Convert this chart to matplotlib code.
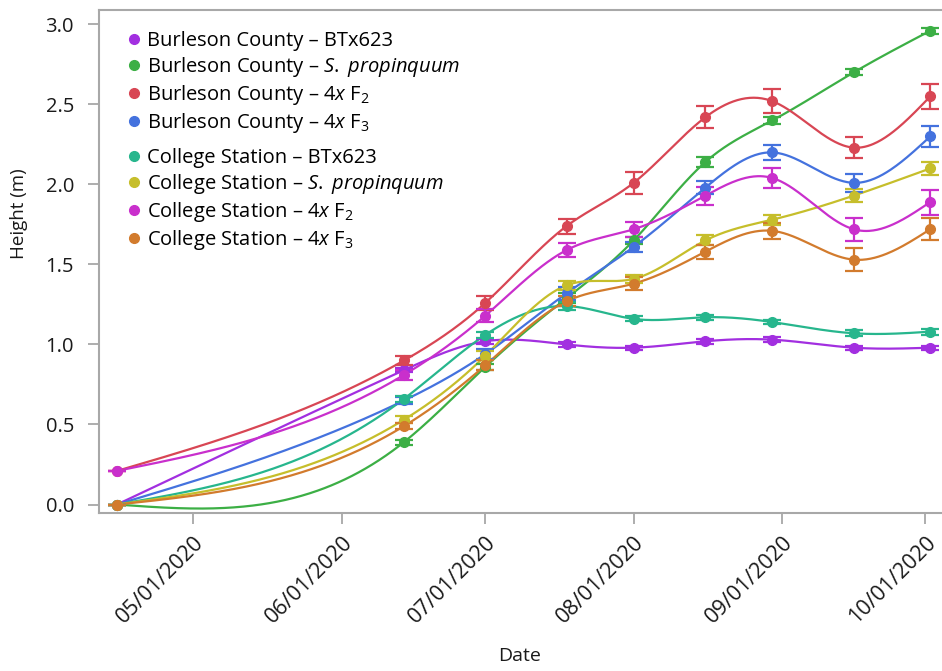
import numpy as np
import matplotlib
matplotlib.use("Agg")
import matplotlib.pyplot as plt
import matplotlib.dates as mdates
from matplotlib.lines import Line2D

plt.rcParams['font.family'] = ['Open Sans', 'DejaVu Sans']
plt.rcParams['mathtext.fontset'] = 'custom'
plt.rcParams['mathtext.rm'] = 'Open Sans'
plt.rcParams['mathtext.it'] = 'Open Sans:italic'

# sampling dates
dates = ['2020-04-15', '2020-06-14', '2020-07-01', '2020-07-18', '2020-08-01',
         '2020-08-16', '2020-08-30', '2020-09-16', '2020-10-02']

# mean plant height (m)
bc_btx = [0.00, 0.84, 1.02, 1.00, 0.98, 1.02, 1.03, 0.98, 0.98]
bc_prop = [0.00, 0.39, 0.86, 1.29, 1.65, 2.14, 2.40, 2.70, 2.96]
bc_f2 = [0.21, 0.90, 1.26, 1.74, 2.01, 2.42, 2.52, 2.23, 2.55]
bc_f3 = [0.00, 0.65, 0.94, 1.32, 1.61, 1.98, 2.20, 2.01, 2.30]
cs_btx = [0.00, 0.66, 1.06, 1.24, 1.16, 1.17, 1.14, 1.07, 1.08]
cs_prop = [0.00, 0.53, 0.93, 1.37, 1.41, 1.65, 1.78, 1.93, 2.10]
cs_f2 = [0.21, 0.81, 1.18, 1.59, 1.72, 1.93, 2.04, 1.72, 1.89]
cs_f3 = [0.00, 0.49, 0.87, 1.27, 1.38, 1.58, 1.71, 1.53, 1.72]

# standard errors
bc_btx_err = [0, 0.015, 0.015, 0.015, 0.012, 0.015, 0.015, 0.012, 0.012]
bc_prop_err = [0, 0.015, 0.02, 0.03, 0.02, 0.034, 0.02, 0.019, 0.018]
bc_f2_err = [0, 0.03, 0.045, 0.047, 0.067, 0.069, 0.075, 0.066, 0.076]
bc_f3_err = [0, 0.02, 0.03, 0.04, 0.031, 0.042, 0.046, 0.057, 0.065]
cs_btx_err = [0, 0.02, 0.02, 0.025, 0.015, 0.015, 0.015, 0.02, 0.018]
cs_prop_err = [0, 0.02, 0.03, 0.027, 0.023, 0.031, 0.031, 0.042, 0.04]
cs_f2_err = [0, 0.03, 0.04, 0.043, 0.047, 0.057, 0.063, 0.072, 0.078]
cs_f3_err = [0, 0.02, 0.03, 0.03, 0.042, 0.044, 0.052, 0.07, 0.07]

labels = [
    'Burleson County – BTx623',
    r'Burleson County – $\it{S.}$ $\it{propinquum}$',
    r'Burleson County – 4$\it{x}$ F$_2$',
    r'Burleson County – 4$\it{x}$ F$_3$',
    'College Station – BTx623',
    r'College Station – $\it{S.}$ $\it{propinquum}$',
    r'College Station – 4$\it{x}$ F$_2$',
    r'College Station – 4$\it{x}$ F$_3$',
]
colors = ['#a22fe0', '#3caf45', '#d84654', '#4472de',
          '#27b68d', '#c6be2b', '#c92fcc', '#d27b2d']
series = [bc_btx, bc_prop, bc_f2, bc_f3, cs_btx, cs_prop, cs_f2, cs_f3]
errors = [bc_btx_err, bc_prop_err, bc_f2_err, bc_f3_err,
          cs_btx_err, cs_prop_err, cs_f2_err, cs_f3_err]


def natural_spline(x, y, xs):
    """natural cubic spline through (x, y), evaluated at xs"""
    x = np.asarray(x, float)
    y = np.asarray(y, float)
    n = len(x)
    h = np.diff(x)
    A = np.zeros((n, n))
    r = np.zeros(n)
    A[0, 0] = A[-1, -1] = 1
    for i in range(1, n - 1):
        A[i, i - 1] = h[i - 1]
        A[i, i] = 2 * (h[i - 1] + h[i])
        A[i, i + 1] = h[i]
        r[i] = 3 * ((y[i + 1] - y[i]) / h[i] - (y[i] - y[i - 1]) / h[i - 1])
    c = np.linalg.solve(A, r)
    b = (y[1:] - y[:-1]) / h - h * (2 * c[:-1] + c[1:]) / 3
    d = (c[1:] - c[:-1]) / (3 * h)
    k = np.clip(np.searchsorted(x, xs) - 1, 0, n - 2)
    t = xs - x[k]
    return y[k] + b[k] * t + c[k] * t ** 2 + d[k] * t ** 3


xd = mdates.date2num(np.array(dates, dtype='datetime64[D]'))
xs = np.linspace(xd[0], xd[-1], 600)

fig = plt.figure(figsize=(9.42, 6.71), dpi=100)
ax = fig.add_axes([99 / 942, 1 - 513 / 671, 842 / 942, 503 / 671])

handles = []
for vals, err, col, lab in zip(series, errors, colors, labels):
    ax.plot(xs, natural_spline(xd, vals, xs), color=col, lw=1.6, zorder=2)
    ax.errorbar(xd, vals, yerr=err, fmt='o', color=col, ms=7, capsize=6.5,
                elinewidth=1.6, capthick=1.6, zorder=3)
    handles.append(Line2D([], [], marker='o', ls='', color=col, ms=7, label=lab))

# two legend blocks, one per location
leg_kw = dict(loc='upper left', frameon=False, fontsize=14.5, handletextpad=0.25,
              labelspacing=0.2, handlelength=0.8, borderaxespad=0)
leg1 = ax.legend(handles=handles[:4], bbox_to_anchor=(0.022, 0.974), **leg_kw)
ax.add_artist(leg1)
ax.legend(handles=handles[4:], bbox_to_anchor=(0.022, 0.741), **leg_kw)

ax.set_xlim(mdates.date2num(np.datetime64('2020-04-11')) + 0.25,
            mdates.date2num(np.datetime64('2020-10-04')) + 0.25)
ax.set_ylim(-0.053, 3.09)
ax.set_yticks([0, 0.5, 1.0, 1.5, 2.0, 2.5, 3.0])
ax.yaxis.set_major_formatter(matplotlib.ticker.FormatStrFormatter('%.1f'))
ax.xaxis.set_major_locator(mdates.MonthLocator(bymonth=range(5, 11)))
ax.xaxis.set_major_formatter(mdates.DateFormatter('%m/%d/%Y'))
plt.setp(ax.get_xticklabels(), rotation=45, ha='right', rotation_mode='anchor')

ax.tick_params(axis='both', colors='#a0a0a0', labelcolor='#1a1a1a',
               length=8, width=1.2)
ax.tick_params(axis='x', labelsize=15.5, pad=5.5)
ax.tick_params(axis='y', labelsize=14.5, pad=10)
for side in ['left', 'bottom', 'top']:
    ax.spines[side].set_color('#a8a8a8')
    ax.spines[side].set_linewidth(1.5)
ax.spines['right'].set_visible(False)

ax.set_xlabel('Date', fontsize=14, color='#1a1a1a')
ax.set_ylabel('Height (m)', fontsize=13.5, color='#1a1a1a')
ax.xaxis.set_label_coords(0.5, -0.266)
ax.yaxis.set_label_coords(-0.084, 0.596)

fig.savefig('out.png', dpi=100)
